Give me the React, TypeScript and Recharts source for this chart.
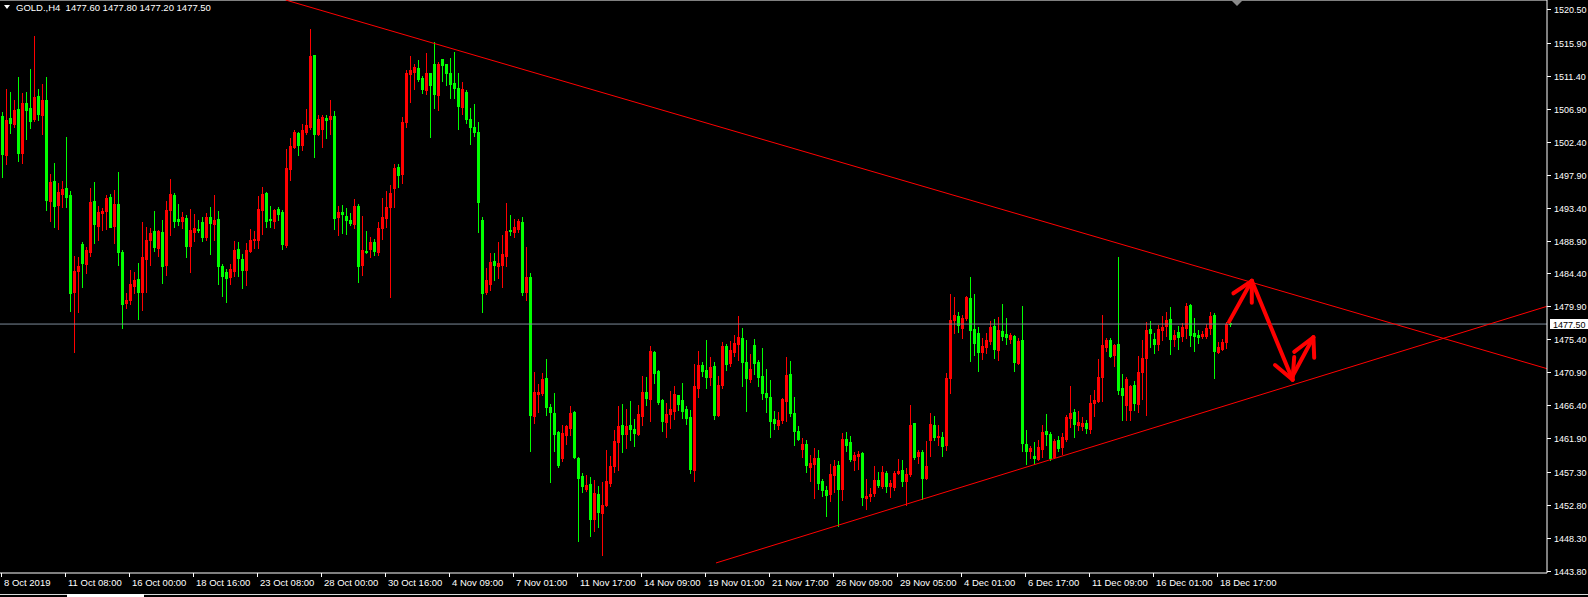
import React from 'react';
import { ComposedChart, Bar, XAxis, YAxis, ReferenceLine } from 'recharts';

// GOLD H4 bars, oldest first
const opens = [
  1505.9, 1500.6, 1505.6, 1504.8, 1506.9, 1500.9, 1507.7, 1507.0, 1505.5, 1508.6,
  1506.0, 1508.1, 1494.3, 1497.0, 1493.8, 1495.3, 1496.1, 1495.1, 1481.9, 1484.7,
  1488.4, 1485.7, 1487.3, 1494.3, 1490.9, 1492.7, 1492.9, 1494.8, 1490.9, 1493.9,
  1487.3, 1480.4, 1480.8, 1482.7, 1483.7, 1481.9, 1486.4, 1489.0, 1490.2, 1487.9,
  1490.1, 1485.6, 1493.1, 1495.1, 1491.8, 1491.6, 1492.0, 1488.2, 1490.1, 1490.5,
  1491.4, 1489.4, 1492.1, 1491.2, 1491.8, 1485.4, 1484.6, 1483.9, 1484.7, 1487.7,
  1486.4, 1484.9, 1487.5, 1489.0, 1489.0, 1493.1, 1495.4, 1491.8, 1491.6, 1493.2,
  1492.8, 1488.3, 1498.7, 1501.7, 1503.6, 1501.9, 1503.7, 1504.4, 1514.2, 1503.4,
  1504.1, 1505.6, 1505.5, 1505.9, 1492.1, 1492.8, 1492.3, 1491.7, 1491.2, 1493.6,
  1485.6, 1487.5, 1487.7, 1488.7, 1487.3, 1490.6, 1492.0, 1493.5, 1496.1, 1498.9,
  1498.0, 1505.1, 1511.6, 1511.9, 1512.4, 1511.1, 1509.4, 1511.8, 1513.0, 1508.8,
  1513.7, 1513.0, 1511.8, 1510.4, 1509.7, 1507.1, 1509.2, 1505.5, 1504.4, 1503.7,
  1491.7, 1481.9, 1483.0, 1486.1, 1485.4, 1485.6, 1486.8, 1490.3, 1490.1, 1490.5,
  1491.4, 1481.9, 1483.9, 1464.9, 1468.0, 1468.1, 1470.1, 1466.2, 1465.4, 1462.8,
  1459.2, 1462.4, 1463.3, 1465.5, 1459.2, 1456.8, 1455.0, 1455.7, 1450.9, 1454.3,
  1451.7, 1452.8, 1455.8, 1458.1, 1461.4, 1463.7, 1462.5, 1463.7, 1463.2, 1462.5,
  1465.0, 1468.2, 1467.3, 1473.7, 1471.1, 1467.1, 1464.1, 1465.2, 1465.6, 1467.8,
  1467.1, 1465.9, 1464.8, 1457.6, 1468.8, 1471.9, 1471.2, 1470.3, 1471.8, 1465.1,
  1469.2, 1474.5, 1472.2, 1473.7, 1474.8, 1475.6, 1472.3, 1470.0, 1474.6, 1472.3,
  1470.4, 1468.1, 1467.5, 1464.5, 1463.7, 1464.4, 1467.0, 1470.7, 1465.4, 1462.9,
  1460.5, 1461.1, 1458.0, 1458.4, 1459.2, 1456.1, 1454.9, 1454.3, 1456.9, 1458.3,
  1455.0, 1461.8, 1461.4, 1458.9, 1459.5, 1459.9, 1453.8, 1454.0, 1454.4, 1456.2,
  1455.4, 1457.2, 1455.4, 1455.3, 1457.2, 1457.6, 1456.1, 1457.0, 1464.0, 1459.5,
  1460.0, 1456.5, 1461.7, 1463.7, 1462.1, 1462.1, 1461.0, 1470.1, 1478.0, 1478.6,
  1477.0, 1478.3, 1481.0, 1476.8, 1476.3, 1473.7, 1474.4, 1475.2, 1477.2, 1474.0,
  1476.6, 1476.1, 1475.5, 1475.9, 1472.2, 1475.3, 1461.1, 1460.2, 1459.5, 1459.1,
  1460.4, 1462.9, 1462.5, 1459.3, 1461.7, 1460.7, 1461.8, 1464.7, 1465.5, 1463.7,
  1463.6, 1464.0, 1463.2, 1466.7, 1467.0, 1470.3, 1474.4, 1475.3, 1473.3, 1474.8,
  1468.8, 1466.4, 1465.8, 1469.2, 1466.6, 1471.0, 1472.9, 1476.8, 1475.5, 1474.8,
  1476.7, 1477.2, 1478.2, 1475.5, 1476.4, 1475.9, 1477.0, 1480.1, 1476.3, 1476.0,
  1475.9, 1475.9, 1477.0, 1478.7, 1473.7, 1474.1, 1475.0, 1477.6,
];

const highs = [
  1506.4, 1509.6, 1509.2, 1508.1, 1511.2, 1509.0, 1509.2, 1512.3, 1516.8, 1509.6,
  1510.2, 1511.2, 1498.0, 1499.5, 1496.8, 1497.0, 1503.0, 1495.7, 1486.8, 1486.7,
  1488.7, 1488.0, 1496.1, 1496.9, 1493.6, 1493.3, 1495.1, 1495.3, 1495.8, 1498.3,
  1487.6, 1481.7, 1484.9, 1484.6, 1485.8, 1491.4, 1490.8, 1490.6, 1492.9, 1490.4,
  1491.7, 1494.3, 1497.3, 1495.4, 1493.9, 1492.8, 1492.4, 1493.2, 1492.5, 1491.7,
  1492.1, 1492.7, 1493.5, 1495.1, 1492.9, 1485.7, 1485.0, 1485.7, 1488.8, 1488.7,
  1487.1, 1488.6, 1490.5, 1490.2, 1495.0, 1496.2, 1495.5, 1493.6, 1493.2, 1493.5,
  1493.1, 1501.4, 1502.9, 1504.0, 1503.7, 1504.8, 1506.9, 1517.8, 1514.2, 1506.0,
  1506.0, 1506.0, 1508.1, 1506.6, 1493.6, 1493.8, 1493.3, 1492.7, 1494.6, 1493.9,
  1492.3, 1490.2, 1489.4, 1489.1, 1491.4, 1494.7, 1495.7, 1496.5, 1499.3, 1499.3,
  1505.8, 1512.2, 1514.1, 1513.0, 1513.5, 1511.4, 1514.5, 1511.8, 1516.0, 1513.3,
  1513.7, 1513.0, 1513.8, 1514.6, 1511.8, 1510.5, 1509.4, 1507.0, 1507.5, 1505.1,
  1492.1, 1485.2, 1487.2, 1487.2, 1488.7, 1489.6, 1494.0, 1492.4, 1491.8, 1491.8,
  1492.1, 1488.0, 1484.5, 1471.0, 1469.3, 1470.8, 1472.7, 1466.6, 1468.1, 1462.9,
  1463.7, 1463.7, 1466.3, 1465.6, 1459.4, 1457.2, 1456.9, 1456.6, 1456.2, 1455.4,
  1456.0, 1460.3, 1459.5, 1463.0, 1466.3, 1466.6, 1465.9, 1467.0, 1464.5, 1466.4,
  1470.4, 1470.3, 1474.5, 1473.8, 1471.2, 1467.3, 1466.7, 1468.4, 1469.0, 1467.8,
  1469.5, 1466.3, 1465.8, 1472.0, 1473.8, 1472.3, 1475.3, 1473.0, 1472.3, 1470.4,
  1475.1, 1474.8, 1475.2, 1476.0, 1478.6, 1477.0, 1475.3, 1473.4, 1475.5, 1472.6,
  1474.2, 1471.4, 1469.9, 1465.6, 1465.5, 1467.4, 1473.0, 1472.5, 1467.5, 1463.6,
  1462.0, 1461.7, 1459.6, 1460.6, 1460.3, 1456.4, 1455.4, 1458.4, 1458.9, 1458.8,
  1462.6, 1462.8, 1462.2, 1460.0, 1460.2, 1460.0, 1456.3, 1455.1, 1458.1, 1457.3,
  1458.1, 1457.4, 1456.2, 1457.4, 1459.1, 1458.9, 1457.9, 1466.4, 1464.0, 1460.3,
  1460.3, 1461.5, 1465.4, 1465.0, 1463.7, 1462.8, 1470.8, 1481.6, 1481.2, 1479.1,
  1478.7, 1481.3, 1483.9, 1481.6, 1477.1, 1475.6, 1476.3, 1477.9, 1478.2, 1478.5,
  1480.2, 1478.3, 1476.3, 1476.0, 1475.6, 1480.0, 1463.0, 1460.9, 1461.4, 1461.7,
  1463.7, 1465.2, 1462.8, 1461.8, 1462.2, 1462.6, 1465.1, 1469.0, 1465.9, 1465.6,
  1464.8, 1464.4, 1467.8, 1468.5, 1472.7, 1478.7, 1475.6, 1475.6, 1474.8, 1486.6,
  1470.7, 1470.3, 1469.2, 1469.7, 1473.1, 1475.3, 1477.8, 1477.9, 1476.3, 1477.4,
  1478.6, 1479.1, 1479.8, 1476.7, 1477.2, 1477.6, 1480.4, 1480.2, 1478.3, 1476.7,
  1476.6, 1477.5, 1479.1, 1479.0, 1475.0, 1475.4, 1477.8, 1477.8,
];

const lows = [
  1497.6, 1499.4, 1503.6, 1504.4, 1499.7, 1499.5, 1502.8, 1504.3, 1505.2, 1505.4,
  1503.5, 1493.1, 1491.5, 1490.8, 1490.5, 1493.5, 1493.5, 1479.3, 1473.7, 1479.2,
  1482.6, 1484.5, 1486.8, 1488.5, 1489.0, 1490.3, 1490.5, 1490.7, 1488.6, 1485.6,
  1477.0, 1479.7, 1480.3, 1481.8, 1478.2, 1479.4, 1481.9, 1485.6, 1487.5, 1486.8,
  1483.1, 1484.2, 1489.6, 1490.8, 1491.0, 1490.6, 1486.7, 1484.6, 1488.9, 1490.1,
  1488.8, 1489.0, 1487.1, 1489.0, 1483.0, 1481.3, 1480.5, 1483.0, 1484.1, 1484.1,
  1482.4, 1482.8, 1487.3, 1487.9, 1487.9, 1489.8, 1490.7, 1490.7, 1490.6, 1491.7,
  1487.7, 1488.0, 1497.2, 1501.5, 1500.6, 1501.3, 1503.4, 1504.1, 1500.3, 1503.3,
  1501.7, 1502.9, 1503.4, 1490.5, 1489.7, 1489.9, 1489.8, 1491.0, 1490.6, 1483.2,
  1484.2, 1487.2, 1486.7, 1486.9, 1486.9, 1489.1, 1490.8, 1481.2, 1493.5, 1496.2,
  1496.8, 1504.4, 1507.8, 1509.6, 1510.7, 1509.0, 1508.9, 1503.0, 1507.0, 1506.7,
  1510.7, 1510.1, 1508.4, 1508.4, 1504.1, 1506.2, 1504.9, 1502.1, 1503.2, 1490.1,
  1479.2, 1481.6, 1482.2, 1483.5, 1483.8, 1482.6, 1485.4, 1489.6, 1489.4, 1490.1,
  1481.5, 1480.8, 1460.2, 1464.0, 1465.5, 1467.8, 1465.1, 1455.9, 1460.2, 1458.0,
  1458.8, 1461.1, 1462.4, 1459.2, 1447.9, 1454.6, 1454.7, 1448.6, 1449.3, 1449.8,
  1446.0, 1452.6, 1455.4, 1457.3, 1457.6, 1460.0, 1460.6, 1461.7, 1460.9, 1462.3,
  1463.7, 1466.4, 1464.3, 1469.5, 1466.6, 1462.9, 1462.1, 1463.3, 1464.5, 1465.8,
  1464.7, 1463.9, 1457.2, 1456.1, 1467.5, 1470.4, 1468.8, 1469.2, 1464.6, 1465.0,
  1468.8, 1471.2, 1471.8, 1473.1, 1472.6, 1469.0, 1465.6, 1469.6, 1470.7, 1469.0,
  1467.3, 1465.5, 1462.1, 1463.2, 1463.2, 1464.0, 1464.3, 1464.9, 1461.0, 1461.7,
  1459.4, 1457.3, 1456.1, 1453.8, 1455.0, 1454.0, 1451.3, 1453.4, 1454.6, 1450.0,
  1453.5, 1460.2, 1458.8, 1457.6, 1457.7, 1452.8, 1452.3, 1453.3, 1454.0, 1455.3,
  1455.1, 1454.6, 1453.9, 1454.9, 1457.0, 1455.4, 1452.8, 1456.8, 1459.1, 1458.5,
  1453.6, 1456.3, 1459.5, 1461.7, 1461.0, 1459.5, 1460.3, 1468.1, 1476.3, 1476.4,
  1475.6, 1478.0, 1472.4, 1473.3, 1471.1, 1472.7, 1473.6, 1474.8, 1472.9, 1472.6,
  1475.3, 1474.8, 1474.9, 1471.1, 1472.0, 1460.2, 1458.4, 1459.2, 1458.4, 1458.9,
  1459.4, 1461.0, 1459.0, 1459.2, 1460.2, 1459.8, 1461.6, 1463.4, 1462.1, 1463.0,
  1463.0, 1462.6, 1462.6, 1464.9, 1466.8, 1467.0, 1473.8, 1473.0, 1471.8, 1468.0,
  1464.4, 1464.4, 1464.4, 1465.8, 1465.5, 1467.3, 1465.1, 1474.4, 1473.5, 1474.0,
  1475.3, 1475.9, 1473.4, 1474.5, 1474.1, 1475.2, 1475.6, 1474.5, 1473.8, 1474.9,
  1475.6, 1475.6, 1476.1, 1470.1, 1473.5, 1474.0, 1474.2, 1477.2,
];

const closes = [
  1500.7, 1505.4, 1504.9, 1506.7, 1500.9, 1507.7, 1506.7, 1505.2, 1508.5, 1506.2,
  1508.1, 1494.4, 1496.9, 1493.6, 1495.5, 1495.9, 1494.8, 1481.7, 1484.7, 1485.4,
  1485.8, 1487.6, 1494.2, 1491.2, 1492.8, 1492.9, 1494.7, 1490.8, 1493.9, 1487.3,
  1480.2, 1480.8, 1483.0, 1483.5, 1481.9, 1486.7, 1489.0, 1489.9, 1488.0, 1490.2,
  1485.4, 1493.1, 1495.3, 1491.6, 1491.6, 1492.1, 1488.2, 1490.3, 1490.6, 1490.3,
  1489.4, 1492.1, 1491.3, 1491.7, 1485.4, 1484.1, 1483.8, 1485.0, 1487.6, 1486.5,
  1484.9, 1487.6, 1489.0, 1489.1, 1493.2, 1495.3, 1491.6, 1491.7, 1493.1, 1492.5,
  1488.4, 1498.8, 1501.8, 1503.7, 1501.9, 1504.0, 1504.7, 1514.1, 1503.4, 1505.5,
  1505.8, 1505.4, 1505.9, 1492.0, 1492.8, 1492.5, 1491.7, 1491.3, 1493.6, 1485.4,
  1487.6, 1487.3, 1488.7, 1487.5, 1490.6, 1492.1, 1493.5, 1495.4, 1498.8, 1497.8,
  1505.1, 1511.8, 1512.2, 1512.6, 1511.0, 1509.6, 1511.8, 1510.1, 1508.9, 1513.0,
  1512.9, 1511.8, 1510.3, 1509.7, 1507.3, 1509.6, 1505.5, 1504.4, 1503.7, 1494.2,
  1481.7, 1483.5, 1486.0, 1485.6, 1485.8, 1487.1, 1490.2, 1490.2, 1490.7, 1491.6,
  1481.9, 1483.9, 1465.1, 1468.2, 1468.2, 1470.0, 1466.2, 1465.5, 1462.5, 1458.3,
  1462.6, 1463.6, 1465.4, 1459.4, 1456.5, 1455.4, 1455.5, 1450.9, 1454.4, 1451.8,
  1452.8, 1456.1, 1458.1, 1461.5, 1463.6, 1462.5, 1463.6, 1463.2, 1462.6, 1465.2,
  1468.2, 1467.4, 1473.8, 1470.8, 1466.9, 1464.3, 1465.2, 1465.9, 1468.0, 1466.6,
  1465.6, 1464.7, 1457.7, 1469.0, 1471.9, 1471.1, 1470.3, 1471.6, 1465.1, 1469.2,
  1474.5, 1472.0, 1474.0, 1474.9, 1475.7, 1472.3, 1470.1, 1471.4, 1472.2, 1470.3,
  1468.1, 1467.5, 1464.3, 1464.0, 1464.4, 1467.3, 1470.5, 1465.4, 1462.9, 1461.8,
  1461.1, 1458.3, 1458.5, 1459.2, 1455.8, 1454.9, 1454.2, 1457.0, 1458.1, 1455.0,
  1461.8, 1461.0, 1459.1, 1459.6, 1459.8, 1453.9, 1454.0, 1454.3, 1456.2, 1455.5,
  1457.3, 1455.4, 1455.8, 1457.2, 1457.4, 1456.1, 1457.0, 1463.7, 1459.4, 1460.0,
  1456.5, 1458.1, 1463.9, 1462.1, 1462.2, 1460.9, 1470.1, 1478.0, 1478.7, 1477.4,
  1478.3, 1481.2, 1476.7, 1474.9, 1473.7, 1474.5, 1475.3, 1477.1, 1474.1, 1476.7,
  1475.9, 1475.7, 1476.0, 1472.3, 1475.2, 1461.3, 1460.2, 1460.6, 1459.2, 1460.7,
  1462.8, 1462.5, 1459.2, 1461.5, 1460.6, 1462.1, 1464.8, 1465.4, 1463.9, 1464.1,
  1464.0, 1463.3, 1466.7, 1467.1, 1470.3, 1474.6, 1475.3, 1473.1, 1474.6, 1468.5,
  1467.8, 1470.0, 1469.0, 1466.7, 1471.0, 1472.9, 1476.7, 1476.3, 1474.8, 1476.8,
  1477.1, 1478.0, 1475.5, 1476.0, 1475.7, 1477.1, 1480.0, 1476.0, 1475.9, 1475.7,
  1476.1, 1477.0, 1478.6, 1473.8, 1474.4, 1475.0, 1477.5, 1477.5,
];

// one time label every 16 bars
const timeLabels = [
  '8 Oct 2019', '11 Oct 08:00', '16 Oct 00:00', '18 Oct 16:00', '23 Oct 08:00',
  '28 Oct 00:00', '30 Oct 16:00', '4 Nov 09:00', '7 Nov 01:00', '11 Nov 17:00',
  '14 Nov 09:00', '19 Nov 01:00', '21 Nov 17:00', '26 Nov 09:00', '29 Nov 05:00',
  '4 Dec 01:00', '6 Dec 17:00', '11 Dec 09:00', '16 Dec 01:00', '18 Dec 17:00',
];
const LABEL_EVERY = 16;

const priceTicks = [
  1520.5, 1515.9, 1511.4, 1506.9, 1502.4, 1497.9, 1493.4, 1488.9, 1484.4,
  1479.9, 1475.4, 1470.9, 1466.4, 1461.9, 1457.3, 1452.8, 1448.3, 1443.8,
];
const priceDomain = [1443.52, 1521.73];

const symbolText = 'GOLD.,H4  1477.60 1477.80 1477.20 1477.50';
const bidPrice = 1477.5;
const shiftBars = 79; // empty space right of the last bar

// hand drawn objects, points as [bar index, price]
const upperTrend = [[71.15, 1521.73], [386.5, 1471.41]];
const lowerTrend = [[178.75, 1444.89], [386.5, 1479.92]];
const arrowLines = [
  [[307.0, 1477.8], [312.7, 1483.4]],
  [[312.7, 1483.4], [308.1, 1481.7]],
  [[312.7, 1483.4], [312.7, 1480.4]],
  [[312.7, 1483.4], [322.9, 1469.9]],
  [[322.9, 1469.9], [318.5, 1471.9]],
  [[322.9, 1469.9], [323.3, 1473.0]],
  [[322.8, 1470.3], [328.1, 1475.7]],
  [[328.1, 1475.7], [323.3, 1473.7]],
  [[328.1, 1475.7], [328.3, 1472.9]],
];

const RED = '#ff0000';
const GREEN = '#00ff00';
const FONT = '"Liberation Sans", Arial, sans-serif';

type Row = { idx: number; o?: number; h?: number; l?: number; c?: number; range?: [number, number] };

const rows: Row[] = [];
for (let i = 0; i < opens.length + shiftBars; i++) {
  if (i < opens.length) {
    rows.push({ idx: i, o: opens[i], h: highs[i], l: lows[i], c: closes[i], range: [lows[i], highs[i]] });
  } else {
    rows.push({ idx: i });
  }
}

// bull bars are red, bear bars green on this terminal
const Candle = (props: any) => {
  const { x, y, width, height, payload } = props;
  if (!payload || payload.o == null) return null;
  const { o, h, l, c } = payload;
  const span = h - l;
  const toY = (v: number) => (span > 0 ? y + ((h - v) / span) * height : y);
  const color = c > o ? RED : GREEN;
  const mid = Math.round(x + width / 2);
  const top = Math.round(y);
  const bottom = Math.round(y + height);
  const bodyTop = Math.round(toY(Math.max(o, c)));
  const bodyBottom = Math.round(toY(Math.min(o, c)));
  return (
    <g shapeRendering="crispEdges">
      <rect x={mid} y={top} width={1} height={Math.max(1, bottom - top + 1)} fill={color} />
      <rect x={mid - 1} y={bodyTop} width={3} height={Math.max(1, bodyBottom - bodyTop + 1)} fill={color} />
    </g>
  );
};

const TimeTick = (props: any) => {
  const { x, y, payload } = props;
  const i = Number(payload.value);
  if (i % LABEL_EVERY !== 0) return null;
  const label = timeLabels[i / LABEL_EVERY];
  if (!label) return null;
  const xx = Math.round(x);
  return (
    <g>
      <rect x={xx} y={y} width={1} height={4} fill="#fff" shapeRendering="crispEdges" />
      <text x={xx + 3} y={y + 13} fill="#fff" fontSize={9.5} fontFamily={FONT}>
        {label}
      </text>
    </g>
  );
};

const PriceTick = (props: any) => {
  const { x, y, payload } = props;
  const yy = Math.round(y);
  return (
    <g>
      <rect x={x} y={yy} width={4} height={1} fill="#fff" shapeRendering="crispEdges" />
      <text x={x + 7} y={yy + 4} fill="#fff" fontSize={9} fontFamily={FONT}>
        {Number(payload.value).toFixed(2)}
      </text>
    </g>
  );
};

const BidTag = (props: any) => {
  const { viewBox } = props;
  if (!viewBox) return null;
  const x = viewBox.x + viewBox.width;
  const y = Math.round(viewBox.y);
  return (
    <g>
      <rect x={x + 3} y={y - 5} width={39} height={10} fill="#fff" />
      <text x={x + 6} y={y + 4} fill="#000" fontSize={9} fontFamily={FONT}>
        {bidPrice.toFixed(2)}
      </text>
    </g>
  );
};

const App: React.FC = () => {
  return (
    <div style={{ position: 'absolute', left: -1, top: 0, width: 1589, height: 597, background: '#000', overflow: 'hidden' }}>
      <ComposedChart width={1589} height={597} data={rows} margin={{ top: 0, right: 0, bottom: 0, left: 0 }}>
        <XAxis
          dataKey="idx"
          type="category"
          interval={0}
          height={24}
          tickSize={0}
          tickMargin={0}
          tickLine={false}
          axisLine={{ stroke: '#fff' }}
          tick={TimeTick}
        />
        <XAxis xAxisId="num" dataKey="idx" type="number" domain={[-0.5, 386.5]} allowDataOverflow hide />
        <YAxis
          orientation="right"
          width={41}
          domain={priceDomain}
          allowDataOverflow
          ticks={priceTicks}
          interval={0}
          tickSize={0}
          tickMargin={0}
          tickLine={false}
          axisLine={{ stroke: '#fff' }}
          tick={PriceTick}
        />
        <ReferenceLine y={priceDomain[1]} stroke="#fff" />
        <ReferenceLine y={bidPrice} stroke="#7d8a99" label={<BidTag />} />
        <Bar dataKey="range" barSize={3} isAnimationActive={false} shape={(p: any) => <Candle {...p} />} />
        <ReferenceLine
          xAxisId="num"
          segment={[{ x: upperTrend[0][0], y: upperTrend[0][1] }, { x: upperTrend[1][0], y: upperTrend[1][1] }]}
          stroke={RED}
          ifOverflow="visible"
        />
        <ReferenceLine
          xAxisId="num"
          segment={[{ x: lowerTrend[0][0], y: lowerTrend[0][1] }, { x: lowerTrend[1][0], y: lowerTrend[1][1] }]}
          stroke={RED}
          ifOverflow="visible"
        />
        {arrowLines.map((s, k) => (
          <ReferenceLine
            key={k}
            xAxisId="num"
            segment={[{ x: s[0][0], y: s[0][1] }, { x: s[1][0], y: s[1][1] }]}
            stroke={RED}
            strokeWidth={4}
            strokeLinecap="round"
            ifOverflow="visible"
          />
        ))}
      </ComposedChart>

      <div style={{ position: 'absolute', left: 5, top: 5, width: 0, height: 0, borderLeft: '3px solid transparent', borderRight: '3px solid transparent', borderTop: '4px solid #fff' }} />
      <div style={{ position: 'absolute', left: 17, top: 2, color: '#fff', fontSize: 9.5, fontFamily: FONT, lineHeight: '12px', whiteSpace: 'pre' }}>
        {symbolText}
      </div>
      <div style={{ position: 'absolute', left: 1232, top: 0, width: 0, height: 0, borderLeft: '6px solid transparent', borderRight: '6px solid transparent', borderTop: '6px solid #8a8a8a' }} />
      <div style={{ position: 'absolute', left: 0, top: 594, width: 1589, height: 1, background: '#d8d8d8' }} />
      <div style={{ position: 'absolute', left: 68, top: 594, width: 77, height: 3, background: '#ffffff' }} />
    </div>
  );
};

export default App;
